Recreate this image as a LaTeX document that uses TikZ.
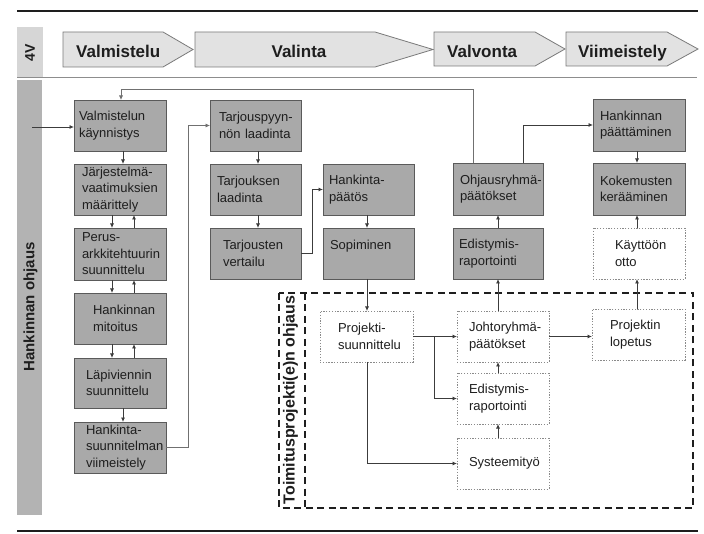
\documentclass[tikz,border=0pt]{standalone}
\usepackage{fontspec}
\setmainfont{Liberation Sans}
\usetikzlibrary{arrows.meta}
\hyphenpenalty=10000
\exhyphenpenalty=10000
\hbadness=10000
\hfuzz=200pt
\definecolor{boxgray}{HTML}{A9A9A9}
\definecolor{boxedge}{HTML}{5A5A5A}
\definecolor{dotgray}{HTML}{8A8A8A}
\definecolor{chevfill}{HTML}{E2E2E2}
\definecolor{chevedge}{HTML}{7A7A7A}
\definecolor{bandlight}{HTML}{D6D6D6}
\definecolor{banddark}{HTML}{B3B3B3}
\definecolor{txt}{HTML}{1E1E1E}
\definecolor{linec}{HTML}{3C3C3C}
\definecolor{lineg}{HTML}{707070}
\tikzset{
  boxfont/.style={font=\fontsize{13}{16.5}\selectfont, text=txt},
  gbox/.style={boxfont, draw=boxedge, fill=boxgray, line width=0.8pt, anchor=north west, align=left, inner ysep=0pt, outer sep=0pt},
  dbox/.style={boxfont, draw=dotgray, fill=white, dash pattern=on 1.3pt off 1.5pt, line width=0.8pt, anchor=north west, align=left, inner ysep=0pt, outer sep=0pt},
  sz/.style n args={4}{minimum width=#1pt, minimum height=#2pt, text width=#3pt, inner xsep=#4pt},
  arr/.style={draw=linec, line width=0.8pt, -{Latex[length=4.5pt,width=4pt]}},
  arrg/.style={draw=lineg, line width=0.7pt, -{Latex[length=4.5pt,width=4pt]}},
  chev/.style={draw=chevedge, fill=chevfill, line width=0.8pt},
  chevtext/.style={font=\bfseries\fontsize{17}{17}\selectfont, text=txt, inner sep=0pt},
  sidelabel/.style={rotate=90, font=\bfseries\fontsize{15}{15}\selectfont, text=txt, inner sep=0pt},
  dashbox/.style={draw=txt, line width=1.8pt, dash pattern=on 7pt off 4.5pt},
}
\begin{document}
\begin{tikzpicture}[x=1pt,y=-1pt]
\useasboundingbox (0,0) rectangle (704,534);
\fill[white] (0,0) rectangle (704,534);

% frame lines and bands
\draw[txt, line width=2pt] (17,11) -- (698,11);
\fill[bandlight] (17,27) rectangle (43,77);
\node[sidelabel, font=\bfseries\fontsize{14}{14}\selectfont] (v4) at (30,53) {4V};
\draw[lineg!80, line width=1.3pt] (17,77.5) -- (697,77.5);
\fill[banddark] (17,80) rectangle (42,515);
\node[sidelabel] (ho) at (30.5,307) {Hankinnan ohjaus};
\draw[txt, line width=2.5pt] (17,531) -- (698,531);

% phase chevrons
\draw[chev] (63,32) -- (163,32) -- (193,49.5) -- (163,67) -- (63,67) -- cycle;
\draw[chev] (195,32) -- (375,32) -- (433,49.5) -- (375,67) -- (195,67) -- cycle;
\draw[chev] (434,32) -- (535,32) -- (565,49) -- (535,66) -- (434,66) -- cycle;
\draw[chev] (566,32) -- (667,32) -- (698,49) -- (667,66) -- (566,66) -- cycle;
\node[chevtext, anchor=base west] (h1) at (76,57.5) {Valmistelu};
\node[chevtext, anchor=base] (h2) at (299,57.5) {Valinta};
\node[chevtext, anchor=base west] (h3) at (447,57.5) {Valvonta};
\node[chevtext, anchor=base west] (h4) at (578,57.5) {Viimeistely};

% column 1
\node[gbox, sz={92}{51}{82}{5}] (b1) at (74,100) {Valmistelun\\käynnistys};
\node[gbox, sz={92}{51}{76}{8}] (b2) at (74,164) {Järjestelmä-\\vaatimuksien\\määrittely};
\node[gbox, sz={92}{52}{76}{8}] (b3) at (74,228) {Perus-\\arkkitehtuurin\\suunnittelu};
\node[gbox, sz={92}{51}{54}{19}] (b4) at (74,293) {Hankinnan\\mitoitus};
\node[gbox, sz={92}{50}{68}{12}] (b5) at (74,358) {Läpiviennin\\suunnittelu};
\node[gbox, sz={92}{51}{68}{12}] (b6) at (74,422) {Hankinta-\\suunnitelman\\viimeistely};

% column 2
\node[gbox, sz={91}{51}{73}{9}] (c1) at (210,100) {Tarjouspyyn-\\nön laadinta};
\node[gbox, sz={91}{51}{77}{7}] (c2) at (210,164) {Tarjouksen\\laadinta};
\node[gbox, sz={91}{51}{65}{13}] (c3) at (210,228) {Tarjousten\\vertailu};

% column 3
\node[gbox, sz={91}{51}{79}{6}] (d1) at (323,164) {Hankinta-\\päätös};
\node[gbox, sz={91}{51}{77}{7}] (d2) at (323,228) {Sopiminen\\\mbox{}};

% column 4
\node[gbox, sz={90}{52}{76}{7}] (e1) at (453,163) {Ohjausryhmä-\\päätökset};
\node[gbox, sz={90}{51}{78}{6}] (e2) at (453,228) {Edistymis-\\raportointi};

% column 5
\node[gbox, sz={92}{52}{78}{7}] (f1) at (593,99) {Hankinnan\\päättäminen};
\node[gbox, sz={92}{52}{78}{7}] (f2) at (593,163) {Kokemusten\\kerääminen};
\node[dbox, sz={92}{51}{48}{22}] (f3) at (593,228) {Käyttöön\\otto};

% delivery project control
\draw[dashbox] (279,293) rectangle (693,508);
\draw[dashbox] (305,293) -- (305,508);
\node[sidelabel, font=\bfseries\fontsize{16}{16}\selectfont] (tp) at (290.5,400) {Toimitusprojekti(e)n ohjaus};

\node[dbox, sz={93}{51}{57}{18}] (p1) at (320,311) {Projekti-\\suunnittelu};
\node[dbox, sz={92}{51}{68}{12}] (p2) at (457,311) {Johtoryhmä-\\päätökset};
\node[dbox, sz={93}{51}{57}{18}] (p3) at (592,309) {Projektin\\lopetus};
\node[dbox, sz={92}{51}{68}{12}] (p4) at (457,373) {Edistymis-\\raportointi};
\node[dbox, sz={92}{51}{68}{12}] (p5) at (457,438) {Systeemityö};

% x positions for connectors
\coordinate (in) at (32,127);
\coordinate (xa) at (123,0);
\coordinate (xd) at (112,0);
\coordinate (xu) at (134,0);
\coordinate (fbL) at (121,89);
\coordinate (fbR) at (473,89);
\coordinate (xj) at (188,0);
\coordinate (xc) at (258,0);
\coordinate (xv) at (312,0);
\coordinate (xs) at (367,0);
\coordinate (xo) at (523,0);
\coordinate (xe) at (498,0);
\coordinate (xk) at (637,0);
\coordinate (xb) at (434,0);

% connectors
\draw[arr] (in) -- (in -| b1.west);
\draw[arrg] (fbR |- e1.north) -- (fbR) -- (fbL) -- (fbL |- b1.north);
\draw[arr] (b1.south -| xa) -- (b2.north -| xa);
\draw[arr] (b2.south -| xd) -- (b3.north -| xd);
\draw[arr] (b3.north -| xu) -- (b2.south -| xu);
\draw[arr] (b3.south -| xd) -- (b4.north -| xd);
\draw[arr] (b4.north -| xu) -- (b3.south -| xu);
\draw[arr] (b4.south -| xd) -- (b5.north -| xd);
\draw[arr] (b5.north -| xu) -- (b4.south -| xu);
\draw[arr] (b5.south -| xa) -- (b6.north -| xa);
\draw[arrg] (b6.east) -| (xj |- c1.west) -- (c1.west);
\draw[arr] (c1.south -| xc) -- (c2.north -| xc);
\draw[arr] (c2.south -| xc) -- (c3.north -| xc);
\draw[arr] (c3.east) -| (xv |- d1.west) -- (d1.west);
\draw[arr] (d1.south -| xs) -- (d2.north -| xs);
\draw[arr] (d2.south -| xs) -- (p1.north -| xs);
\draw[arr] (e1.north -| xo) |- (f1.west);
\draw[arr] (e2.north -| xe) -- (e1.south -| xe);
\draw[arr] (p2.north -| xe) -- (e2.south -| xe);
\draw[arr] (f1.south -| xk) -- (f2.north -| xk);
\draw[arr] (f3.north -| xk) -- (f2.south -| xk);
\draw[arr] (p3.north -| xk) -- (f3.south -| xk);
\draw[arr] (p1.east) -- (p1.east -| p2.west);
\draw[arr] (xb |- p1.east) |- (p4.west);
\draw[arr] (p1.south -| xs) |- (p5.west);
\draw[arr] (p5.north -| xe) -- (p4.south -| xe);
\draw[arr] (p4.north -| xe) -- (p2.south -| xe);
\draw[arr] (p2.east) -- (p2.east -| p3.west);
\end{tikzpicture}
\end{document}
